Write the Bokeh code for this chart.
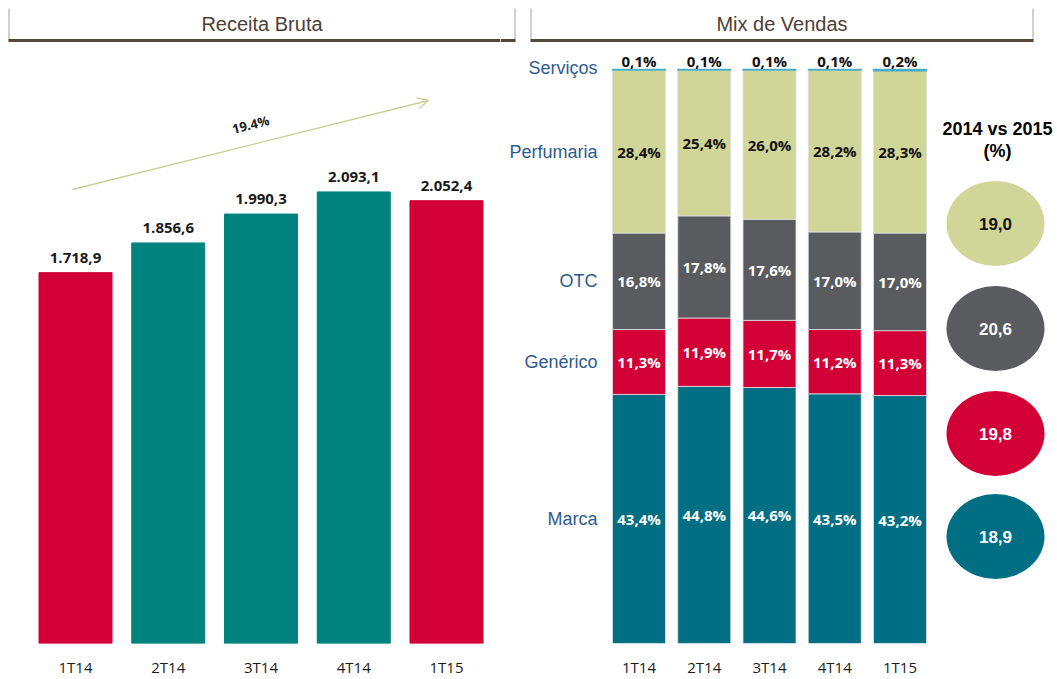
from bokeh.plotting import figure
from bokeh.layouts import row
from bokeh.models import ColumnDataSource, FixedTicker, Arrow, OpenHead, Range1d
from bokeh.core.properties import value
from bokeh.embed import file_html
from bokeh.resources import INLINE

# ---------------- data ----------------
periods = ["1T14", "2T14", "3T14", "4T14", "1T15"]
receita = [1718.9, 1856.6, 1990.3, 2093.1, 2052.4]
growth_label = "19.4%"

segments = ["Marca", "Genérico", "OTC", "Perfumaria", "Serviços"]
marca = [43.4, 44.8, 44.6, 43.5, 43.2]
generico = [11.3, 11.9, 11.7, 11.2, 11.3]
otc = [16.8, 17.8, 17.6, 17.0, 17.0]
perfumaria = [28.4, 25.4, 26.0, 28.2, 28.3]
servicos = [0.1, 0.1, 0.1, 0.1, 0.2]

growth_segments = ["Perfumaria", "OTC", "Genérico", "Marca"]
growth_2014_vs_2015 = [19.0, 20.6, 19.8, 18.9]

# ---------------- style ----------------
RED = "#D20036"
TEAL_L = "#00827F"
TEAL = "#006F84"
GRAY = "#5A5B5F"
OLIVE = "#D0D598"
SERV = "#4BACC6"
ARROW = "#C9CF94"
TITLE_C = "#4B3F36"
BOX_LINE = "#A8A4A0"
BOX_BOTTOM = "#54473C"
ROW_C = "#2F5A8E"
NUM_FONT = value("Open Sans")
SANS = value("Liberation Sans")

H = 679
BOTTOM = 36
FRAME_H = H - BOTTOM
IMG_BOTTOM = FRAME_H  # y of frame bottom

def fmt_pt(v):
    s = f"{v:,.1f}"
    return s.replace(",", "X").replace(".", ",").replace("X", ".")

def fmt_pct(v):
    return f"{v:.1f}%".replace(".", ",")

idx = list(range(len(periods)))

# ================= left panel: Receita Bruta =================
L_W = 500
L_X0 = 75.0       # x of first bar centre
L_DX = 92.75      # px per category
L_VPP = 4.635     # value per px

def lx(px):
    return (px - L_X0) / L_DX

def ly(py):
    return (IMG_BOTTOM - py) * L_VPP

left = figure(width=L_W, height=H, x_range=Range1d(lx(0), lx(L_W)),
              y_range=Range1d(0, FRAME_H * L_VPP), output_backend="svg",
              toolbar_location=None, y_axis_location=None,
              min_border_left=0, min_border_right=0, min_border_top=0,
              min_border_bottom=BOTTOM)
left_colors = [RED, TEAL_L, TEAL_L, TEAL_L, RED]
lsrc = ColumnDataSource(dict(x=idx, top=receita, color=left_colors,
                             label=[fmt_pt(v) for v in receita]))
left.vbar(x="x", top="top", width=0.787, fill_color="color", line_color="color", source=lsrc)
left.text(x="x", y="top", text="label", source=lsrc, text_align="center",
          text_baseline="bottom", y_offset=-10, text_font=NUM_FONT,
          text_font_style="bold", text_font_size="15px", text_color="#1a1a1a")

left.add_layout(Arrow(end=OpenHead(size=11, line_color=ARROW, line_width=1.3),
                      x_start=lx(72), y_start=ly(189), x_end=lx(428), y_end=ly(100),
                      line_color=ARROW, line_width=1.3))
left.text(x=[lx(250)], y=[ly(124)], text=[growth_label], angle=0.245,
          text_align="center", text_baseline="middle", text_font=NUM_FONT,
          text_font_style="bold", text_font_size="13px", text_color="#222222")

# title box (left part)
left.segment(x0=[lx(8.5)], y0=[ly(8)], x1=[lx(8.5)], y1=[ly(40)],
             line_color=BOX_LINE, line_width=1)
left.segment(x0=[lx(8)], y0=[ly(40)], x1=[lx(L_W)], y1=[ly(40)], line_color=BOX_BOTTOM, line_width=3)
left.text(x=[lx(261.5)], y=[ly(23)], text=["Receita Bruta"], text_align="center",
          text_baseline="middle", text_font=SANS, text_font_size="20px", text_color=TITLE_C)

# ================= right panel: Mix de Vendas =================
R_W = 557
R_X0 = 638.5
R_DX = 65.25
R_PPU = 5.74      # px per percentage point

def rx(px):
    return (px - R_X0) / R_DX

def ry(py):
    return (IMG_BOTTOM - py) / R_PPU

right = figure(width=R_W, height=H, x_range=Range1d(rx(L_W), rx(L_W + R_W)),
               y_range=Range1d(0, FRAME_H / R_PPU), output_backend="svg",
               toolbar_location=None, y_axis_location=None,
               min_border_left=0, min_border_right=0, min_border_top=0,
               min_border_bottom=BOTTOM)

# remainder of the left title box
right.segment(x0=[rx(514.5)], y0=[ry(8)], x1=[rx(514.5)], y1=[ry(40)],
              line_color=BOX_LINE, line_width=1)
right.segment(x0=[rx(L_W)], y0=[ry(40)], x1=[rx(515)], y1=[ry(40)], line_color=BOX_BOTTOM, line_width=3)

series = [marca, generico, otc, perfumaria, servicos]
seg_colors = [TEAL, RED, GRAY, OLIVE, SERV]
label_colors = ["white", "white", "white", "#111111", "#111111"]
bottoms = [0.0] * len(periods)
centers_first = []
for name, vals, col, lc in zip(segments, series, seg_colors, label_colors):
    tops = [b + v for b, v in zip(bottoms, vals)]
    if name == "Serviços":
        right.vbar(x=idx, bottom=bottoms, top=tops, width=0.812, fill_color=col,
                   line_color=col, line_width=1.5)
        right.text(x=idx, y=tops, text=[fmt_pct(v) for v in vals], text_align="center",
                   text_baseline="bottom", y_offset=1, text_font=NUM_FONT,
                   text_font_style="bold", text_font_size="15px", text_color=lc)
    else:
        right.vbar(x=idx, bottom=bottoms, top=tops, width=0.812, fill_color=col,
                   line_color="#DDE1E1", line_width=0.8)
        mids = [(b + t) / 2 for b, t in zip(bottoms, tops)]
        right.text(x=idx, y=mids, text=[fmt_pct(v) for v in vals], text_align="center",
                   text_baseline="middle", text_font=NUM_FONT, text_font_style="bold",
                   text_font_size="15px", text_color=lc)
    centers_first.append((bottoms[0] + tops[0]) / 2)
    bottoms = tops

right.text(x=[rx(597)] * len(segments), y=centers_first, text=segments, text_align="right",
           text_baseline="middle", y_offset=[0, 0, 0, 0, -2], text_font=SANS,
           text_font_size="18px", text_color=ROW_C)

# growth circles
circ_y = [ry(223), ry(328), ry(433), ry(536)]
circ_cols = [OLIVE, GRAY, RED, TEAL]
circ_text_cols = ["#111111", "white", "white", "white"]
cx = [rx(995)] * len(growth_2014_vs_2015)
right.ellipse(x=cx, y=circ_y, width=98, height=85, width_units="screen",
              height_units="screen", fill_color=circ_cols, line_color=None)
right.text(x=cx, y=circ_y, text=[fmt_pt(v) for v in growth_2014_vs_2015],
           text_align="center", text_baseline="middle", text_font=SANS,
           text_font_style="bold", text_font_size="17px", text_color=circ_text_cols)
right.text(x=[rx(997), rx(997)], y=[ry(128), ry(150)], text=["2014 vs 2015", "(%)"],
           text_align="center", text_baseline="middle", text_font=SANS,
           text_font_style="bold", text_font_size="18px", text_color="#000000")

# title box
right.segment(x0=[rx(530.5), rx(1032.5)], y0=[ry(8), ry(8)], x1=[rx(530.5), rx(1032.5)],
              y1=[ry(40), ry(40)], line_color=BOX_LINE, line_width=1)
right.segment(x0=[rx(530)], y0=[ry(40)], x1=[rx(1033)], y1=[ry(40)], line_color=BOX_BOTTOM, line_width=3)
right.text(x=[rx(781.5)], y=[ry(23)], text=["Mix de Vendas"], text_align="center",
           text_baseline="middle", text_font=SANS, text_font_size="20px", text_color=TITLE_C)

# ---------------- common axis style ----------------
for p in (left, right):
    p.xgrid.visible = False
    p.ygrid.visible = False
    p.outline_line_color = None
    p.xaxis.ticker = FixedTicker(ticks=idx)
    p.xaxis.major_label_overrides = {i: lab for i, lab in zip(idx, periods)}
    p.xaxis.axis_line_color = None
    p.xaxis.major_tick_line_color = None
    p.xaxis.minor_tick_line_color = None
    p.xaxis.major_tick_in = 0
    p.xaxis.major_tick_out = 0
    p.xaxis.major_label_standoff = 13
    p.xaxis.major_label_text_font = "Open Sans"
    p.xaxis.major_label_text_font_size = "15px"
    p.xaxis.major_label_text_color = "#1a1a1a"

layout = row(left, right)
open("out.html", "w").write(file_html(layout, INLINE))
